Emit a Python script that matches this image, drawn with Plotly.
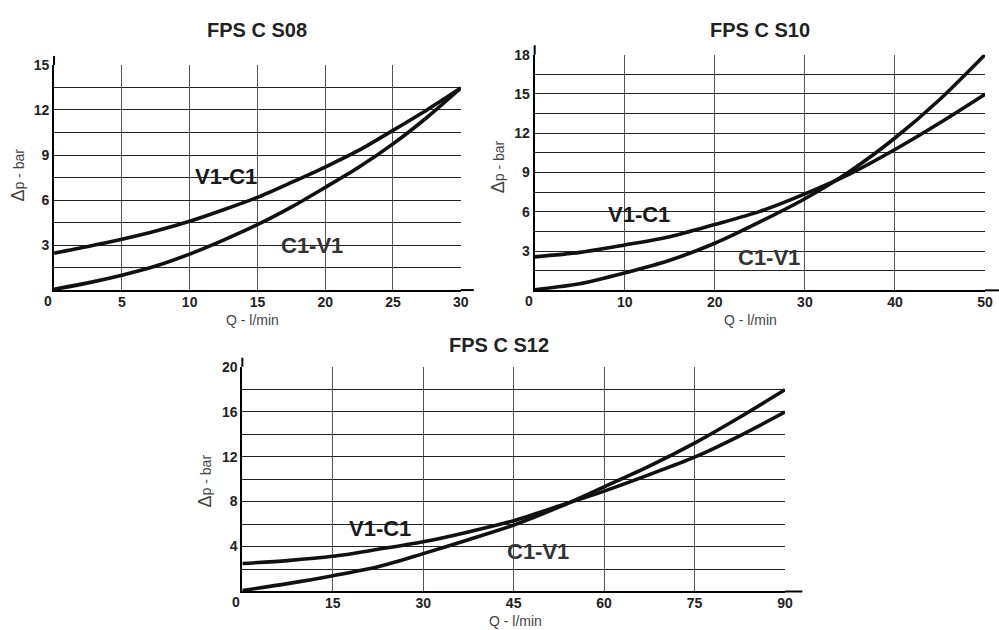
import plotly.graph_objects as go

# ---- data ----
s08_q = [0, 2.5, 5, 7.5, 10, 12.5, 15, 17.5, 20, 22.5, 25, 27.5, 30]
s08_v1c1 = [2.46, 2.9, 3.38, 3.93, 4.58, 5.35, 6.18, 7.17, 8.2, 9.32, 10.64, 12.0, 13.46]
s08_c1v1 = [0.05, 0.48, 0.99, 1.6, 2.4, 3.33, 4.36, 5.53, 6.84, 8.2, 9.74, 11.5, 13.46]

s10_q = [0, 5, 10, 15, 20, 25, 30, 35, 40, 45, 50]
s10_v1c1 = [2.56, 2.9, 3.47, 4.1, 5.03, 6.03, 7.37, 8.9, 10.76, 12.8, 14.98]
s10_c1v1 = [0.05, 0.5, 1.33, 2.3, 3.6, 5.23, 7.0, 9.1, 11.64, 14.6, 18.0]

s12_q = [0, 7.5, 15, 22.5, 30, 37.5, 45, 52.5, 60, 67.5, 75, 82.5, 90]
s12_v1c1 = [2.49, 2.75, 3.13, 3.75, 4.42, 5.3, 6.3, 7.6, 8.93, 10.4, 11.95, 13.85, 15.96]
s12_c1v1 = [0.09, 0.7, 1.4, 2.2, 3.37, 4.6, 5.9, 7.5, 9.31, 11.15, 13.2, 15.5, 17.95]

titles = ["FPS C S08", "FPS C S10", "FPS C S12"]
x_ticks = [[5, 10, 15, 20, 25, 30], [10, 20, 30, 40, 50], [15, 30, 45, 60, 75, 90]]
y_ticks = [[3, 6, 9, 12, 15], [3, 6, 9, 12, 15, 18], [4, 8, 12, 16, 20]]
x_ranges = [[0, 30], [0, 50], [0, 90]]
y_ranges = [[0, 15], [0, 18], [0, 20]]
y_minor = [1.5, 1.5, 2]
label_v1c1_pos = [(12.7, 7.6), (11.6, 5.8), (22.8, 5.6)]
label_c1v1_pos = [(19.05, 3.0), (26.0, 2.5), (49.0, 3.6)]

# ---- layout geometry (pixel positions in the 999x630 page) ----
W, H = 999, 630


def px_x(p):
    return p / W


def px_y(p):
    return 1 - p / H


x_domains = [[px_x(54.5), px_x(464.5)], [px_x(539), px_x(993)], [px_x(244.3), px_x(791.3)]]
y_domains = [[px_y(285.7), px_y(57.7)], [px_y(286), px_y(47.3)], [px_y(591), px_y(363.3)]]
title_y = [px_y(22), px_y(22), px_y(341)]
title_xshift = [0, 0, -15]
qtitle_xshift = [-5, -9, 2]
ytitle_yshift = [2, 6, -2]

FONT = "Liberation Sans, Arial, sans-serif"
TXT = "#222222"

fig = go.Figure()
series = [(s08_q, s08_v1c1, s08_c1v1), (s10_q, s10_v1c1, s10_c1v1), (s12_q, s12_v1c1, s12_c1v1)]

annotations = []
shapes = []
for i, (q, a, b) in enumerate(series):
    n = "" if i == 0 else str(i + 1)
    xa, ya = "x" + n, "y" + n
    for yv in (a, b):
        fig.add_trace(go.Scatter(x=q, y=yv, xaxis=xa, yaxis=ya, mode="lines",
                                 line=dict(color="#111111", width=3.6, shape="spline", smoothing=0.8),
                                 showlegend=False, hoverinfo="skip"))
    fig.update_layout(**{
        "xaxis" + n: dict(domain=x_domains[i], range=x_ranges[i], anchor=ya,
                          tickmode="array", tickvals=x_ticks[i],
                          showgrid=True, gridcolor="#555555", gridwidth=1,
                          showline=True, linecolor="#000000", linewidth=2,
                          zeroline=False, ticks="", fixedrange=True,
                          ticklabelstandoff=-2,
                          tickfont=dict(family=FONT, size=14, color=TXT, weight="bold")),
        "yaxis" + n: dict(domain=y_domains[i], range=y_ranges[i], anchor=xa,
                          tickmode="array", tickvals=y_ticks[i],
                          showgrid=True, gridcolor="#222222", gridwidth=1,
                          minor=dict(tick0=0, dtick=y_minor[i], showgrid=True,
                                     gridcolor="#222222", gridwidth=1, ticks=""),
                          showline=True, linecolor="#000000", linewidth=2,
                          zeroline=False, ticks="", fixedrange=True,
                          tickfont=dict(family=FONT, size=14, color=TXT, weight="bold")),
    })
    # axis-line extensions past the plotting area
    shapes.append(dict(type="line", xref=xa + " domain", yref=ya + " domain",
                       x0=0, x1=0, y0=1, y1=1.04, line=dict(color="#000000", width=2)))
    shapes.append(dict(type="line", xref=xa + " domain", yref=ya + " domain",
                       x0=1, x1=1.032, y0=0, y1=0, line=dict(color="#000000", width=2)))
    # title
    annotations.append(dict(text=titles[i], xref=xa + " domain", yref="paper",
                            x=0.5, y=title_y[i], yanchor="middle", xshift=title_xshift[i],
                            showarrow=False,
                            font=dict(family=FONT, size=20, color=TXT, weight="bold")))
    # corner zero
    annotations.append(dict(text="0", xref=xa + " domain", yref=ya + " domain",
                            x=0, y=0, xanchor="center", yanchor="middle", xshift=-6, yshift=-11,
                            showarrow=False,
                            font=dict(family=FONT, size=14, color=TXT, weight="bold")))
    # axis titles
    annotations.append(dict(text="Q - l/min", xref=xa + " domain", yref=ya + " domain",
                            x=0.5, y=0, yanchor="middle", yshift=-30, xshift=qtitle_xshift[i],
                            showarrow=False,
                            font=dict(family=FONT, size=14, color="#444444")))
    annotations.append(dict(text="<span style='font-size:18px'>Δ</span>p - bar",
                            xref=xa + " domain", yref=ya + " domain",
                            x=0, y=0.5, xanchor="center", yanchor="middle", xshift=-37,
                            yshift=ytitle_yshift[i],
                            textangle=-90, showarrow=False,
                            font=dict(family=FONT, size=14, color="#444444")))
    # curve labels
    annotations.append(dict(text="V1-C1", xref=xa, yref=ya, x=label_v1c1_pos[i][0],
                            y=label_v1c1_pos[i][1], showarrow=False,
                            font=dict(family=FONT, size=22, color="#1a1a1a", weight="bold")))
    annotations.append(dict(text="C1-V1", xref=xa, yref=ya, x=label_c1v1_pos[i][0],
                            y=label_c1v1_pos[i][1], showarrow=False,
                            font=dict(family=FONT, size=22, color="#333333", weight="bold")))

fig.update_layout(width=W, height=H, margin=dict(l=0, r=0, t=0, b=0),
                  paper_bgcolor="white", plot_bgcolor="white",
                  annotations=annotations, shapes=shapes, showlegend=False)

fig.write_html("out.html", config={"displayModeBar": False},
               post_script="document.body.style.margin='0';document.body.style.overflow='hidden';")
